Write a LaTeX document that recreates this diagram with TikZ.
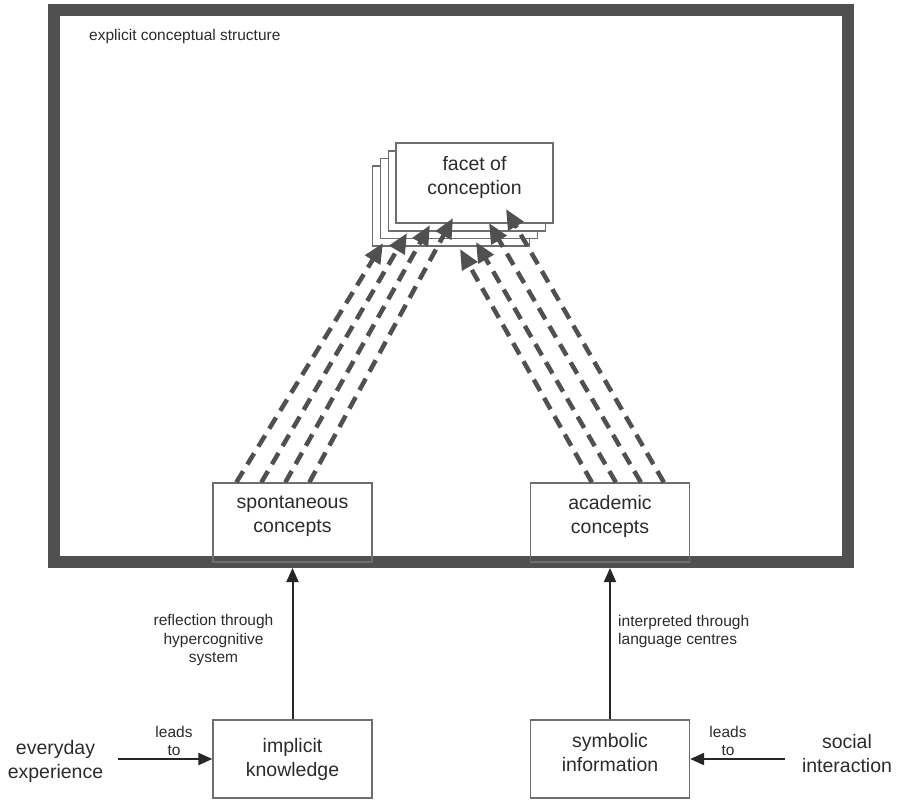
\documentclass[tikz,border=0pt]{standalone}
\usepackage{fontspec}
\setmainfont{Liberation Sans}
\usetikzlibrary{arrows.meta,calc}
\definecolor{framegray}{HTML}{505050}
\definecolor{edgegray}{HTML}{6E6E6E}
\definecolor{ink}{HTML}{2B2B2B}

\begin{document}
\begin{tikzpicture}[x=1pt,y=-1pt,
  bigtext/.style={font=\fontsize{19.5}{24}\selectfont, text=ink, align=center, inner sep=0pt},
  smalltext/.style={font=\fontsize{15.5}{18.5}\selectfont, text=ink, inner sep=0pt},
  conceptbox/.style={draw=edgegray, line width=1.3pt, minimum width=159pt, minimum height=79pt, bigtext},
  sheet/.style={draw=edgegray, line width=1.3pt, fill=white, minimum width=157pt, minimum height=80pt, inner sep=0pt},
  flow/.style={draw=black!85, line width=2pt, -{Triangle[length=14pt,width=12pt]}},
  link/.style={draw=framegray, line width=4.5pt, dash pattern=on 13pt off 8pt,
    -{Triangle[length=20pt,width=17pt,fill=framegray]}}
]
\useasboundingbox (0,0) rectangle (898,801);

% outer frame: the explicit conceptual structure
\node[draw=framegray, line width=12pt, minimum width=793.5pt, minimum height=552.5pt, inner sep=0pt]
  (structure) at (450.75,285.75) {};
\node[smalltext, anchor=west] (structlabel) at (89,36) {explicit conceptual structure};

% stacked facets of conception
\node[sheet] (facet4) at (451,206) {};
\node[sheet] (facet3) at (459,198.5) {};
\node[sheet] (facet2) at (467,191) {};
\node[sheet, bigtext, text depth=16pt] (facet) at (474.5,183) {facet of\\conception};

% concept boxes on the frame border
\node[conceptbox, text depth=16pt] (spont) at (292.5,522.5) {spontaneous\\concepts};
\node[conceptbox, text depth=16pt] (academic) at (610,522.5) {academic\\concepts};

% knowledge sources below the frame
\node[conceptbox, minimum height=78pt] (implicit) at (292.5,759) {implicit\\knowledge};
\node[conceptbox, minimum height=78pt, text depth=14pt] (symbolic) at (610,759) {symbolic\\information};

\node[bigtext] (everyday) at (55.5,761.5) {everyday\\experience};
\node[bigtext] (social) at (847,753.5) {social\\interaction};

\node[smalltext, align=center] (leadsL) at (174,741) {leads\\to};
\node[smalltext, align=center] (leadsR) at (728,741) {leads\\to};

\node[smalltext, align=center] (reflect) at (213.5,640) {reflection through\\hypercognitive\\system};
\node[smalltext, align=left, anchor=west] (interp) at (618,631.5) {interpreted through\\language centres};

% solid arrows
\coordinate (fromleft) at (118,759);
\coordinate (fromright) at (785,759);
\draw[flow] (fromleft) -- (implicit);
\draw[flow] (fromright) -- (symbolic);
\draw[flow] (implicit.north) -- (implicit.north |- structure.south);
\draw[flow] (symbolic.north) -- (symbolic.north |- structure.south);

% dashed arrows from the concept boxes to the facets
\coordinate (s1) at ($(spont.north west)+(24,0)$);
\coordinate (s2) at ($(spont.north west)+(49,0)$);
\coordinate (s3) at ($(spont.north west)+(73,0)$);
\coordinate (s4) at ($(spont.north west)+(97,0)$);
\coordinate (a1) at ($(academic.north west)+(62,0)$);
\coordinate (a2) at ($(academic.north west)+(86,0)$);
\coordinate (a3) at ($(academic.north west)+(111,0)$);
\coordinate (a4) at ($(academic.north west)+(134,0)$);

\coordinate (t1) at (383,243);
\coordinate (t2) at (407,233);
\coordinate (t3) at (430,225);
\coordinate (t4) at (453,218);
\coordinate (t5) at (460,249);
\coordinate (t6) at (476,242);
\coordinate (t7) at (489,223);
\coordinate (t8) at (506,209);

\draw[link] (s1) -- (t1);
\draw[link] (s2) -- (t2);
\draw[link] (s3) -- (t3);
\draw[link] (s4) -- (t4);
\draw[link] (a1) -- (t5);
\draw[link] (a2) -- (t6);
\draw[link] (a3) -- (t7);
\draw[link] (a4) -- (t8);
\end{tikzpicture}
\end{document}
